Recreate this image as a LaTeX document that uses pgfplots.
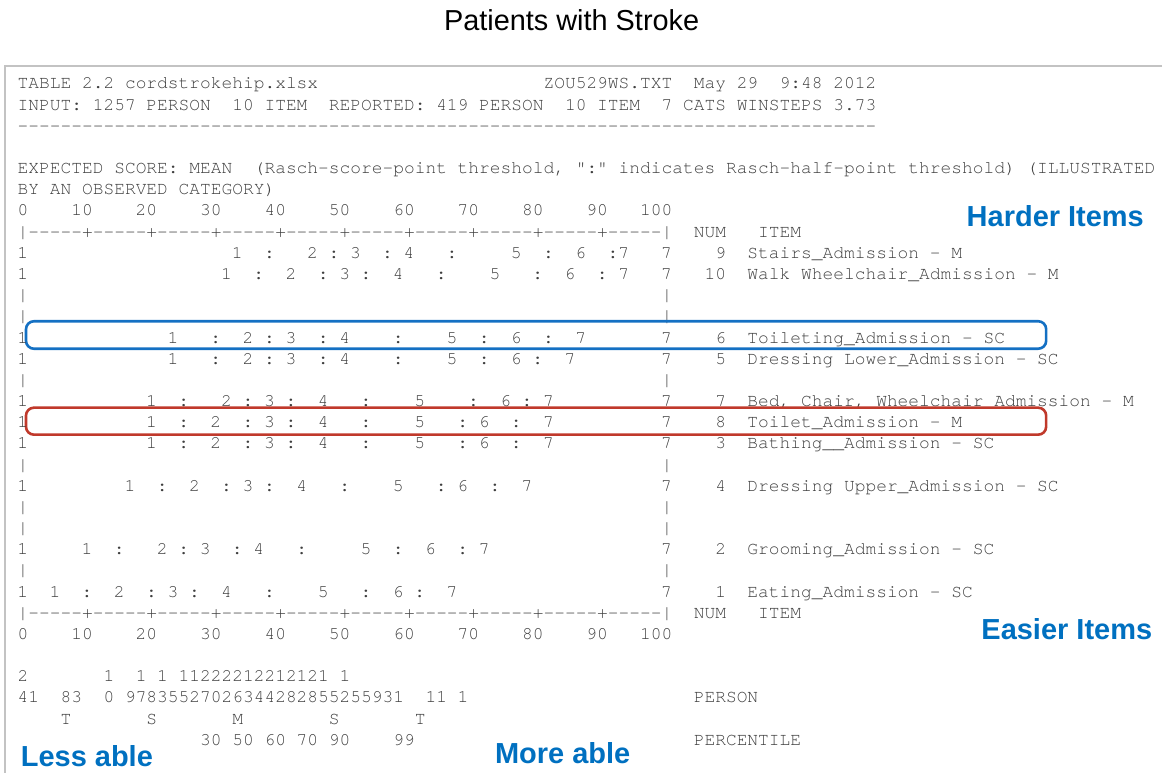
\documentclass[border=0pt]{standalone}
\usepackage{fontspec}
\setmainfont{Liberation Sans}
\setmonofont{TeX Gyre Cursor}
\usepackage{pgfplots}
\pgfplotsset{compat=1.18}
\definecolor{txt}{RGB}{62,62,62}
\definecolor{lblue}{RGB}{0,112,192}
\definecolor{bxblue}{RGB}{20,112,195}
\definecolor{bxred}{RGB}{192,57,43}
\definecolor{framec}{RGB}{195,195,195}
\newcommand\mf{\fontsize{8.95}{10}\selectfont\ttfamily\frenchspacing}
\newcommand\tl[3]{\node[anchor=base west,inner sep=0pt,font=\mf,text=txt] at (axis cs:#1,#2) {#3};}
\pgfplotsset{cats/.style={draw=none, mark=none, nodes near coords,
  point meta=explicit symbolic,
  every node near coord/.append style={anchor=base, inner sep=0pt, font=\mf, text=txt}}}
\begin{document}
\begin{tikzpicture}
\begin{axis}[width=581.5pt, height=387pt, scale only axis,
  xmin=-2.1136, xmax=106.173, ymin=-4.2001, ymax=32.327, y dir=reverse,
  axis lines=none, clip=false]
\path (rel axis cs:0,0) rectangle (rel axis cs:1,1);
% frame
\draw[framec, line width=0.9pt] (axis cs:106.173,-1.085) -- (axis cs:-1.648,-1.085) -- (axis cs:-1.648,32.327);
% title
\node[anchor=base, inner sep=0pt, font=\fontsize{14.45}{17}\selectfont] at (axis cs:51.15,-2.737) {Patients with Stroke};
% header text
\tl{-0.5}{0}{TABLE 2.2 cordstrokehip.xlsx}
\tl{48.5}{0}{ZOU529WS.TXT~~May~29~~9:48~2012}
\tl{-0.5}{1}{INPUT: 1257 PERSON~~10 ITEM~~REPORTED: 419 PERSON~~10 ITEM~~7 CATS WINSTEPS 3.73}
\tl{-0.5}{2}{--------------------------------------------------------------------------------}
\tl{-0.5}{4}{EXPECTED SCORE: MEAN~~(Rasch-score-point threshold, ":" indicates Rasch-half-point threshold) (ILLUSTRATED}
\tl{-0.5}{5}{BY AN OBSERVED CATEGORY)}
\tl{-0.5}{6}{0~~~~10~~~~20~~~~30~~~~40~~~~50~~~~60~~~~70~~~~80~~~~90~~~100}
\tl{-0.5}{7}{|-----+-----+-----+-----+-----+-----+-----+-----+-----+-----|~~NUM~~~ITEM}
% item names
\tl{64.5}{8}{9~~Stairs\_Admission - M}
\tl{63.5}{9}{10~~Walk Wheelchair\_Admission - M}
\tl{64.5}{12}{6~~Toileting\_Admission - SC}
\tl{64.5}{13}{5~~Dressing Lower\_Admission - SC}
\tl{64.5}{15}{7~~Bed, Chair, Wheelchair\_Admission - M}
\tl{64.5}{16}{8~~Toilet\_Admission - M}
\tl{64.5}{17}{3~~Bathing\_\_Admission - SC}
\tl{64.5}{19}{4~~Dressing Upper\_Admission - SC}
\tl{64.5}{22}{2~~Grooming\_Admission - SC}
\tl{64.5}{24}{1~~Eating\_Admission - SC}
% empty rows
\tl{-0.5}{10}{|}\tl{59.5}{10}{|}
\tl{-0.5}{11}{|}\tl{59.5}{11}{|}
\tl{-0.5}{14}{|}\tl{59.5}{14}{|}
\tl{-0.5}{18}{|}\tl{59.5}{18}{|}
\tl{-0.5}{20}{|}\tl{59.5}{20}{|}
\tl{-0.5}{21}{|}\tl{59.5}{21}{|}
\tl{-0.5}{23}{|}\tl{59.5}{23}{|}
% bottom scale
\tl{-0.5}{25}{|-----+-----+-----+-----+-----+-----+-----+-----+-----+-----|~~NUM~~~ITEM}
\tl{-0.5}{26}{0~~~~10~~~~20~~~~30~~~~40~~~~50~~~~60~~~~70~~~~80~~~~90~~~100}
\tl{-0.5}{28}{2~~~~~~~1~~1~1~11222212212121~1}
\tl{-0.5}{29}{41~~83~~0~97835527026344282855255931~~11~1}
\tl{62.5}{29}{PERSON}
\tl{-0.5}{30}{~~~~T~~~~~~~S~~~~~~~M~~~~~~~~S~~~~~~~T}
\tl{16.5}{31}{30 50 60 70 90~~~~99}
\tl{62.5}{31}{PERCENTILE}
% category thresholds (column position, row, category)
\addplot[cats] table[x=c, y=r, meta=m] {
c r m
0 8 1
20 8 1
23 8 :
27 8 2
29 8 :
31 8 3
34 8 :
36 8 4
40 8 :
46 8 5
49 8 :
52 8 6
55 8 :
56 8 7
60 8 7
};
\addplot[cats] table[x=c, y=r, meta=m] {
c r m
0 9 1
19 9 1
22 9 :
25 9 2
28 9 :
30 9 3
32 9 :
35 9 4
39 9 :
44 9 5
48 9 :
51 9 6
54 9 :
56 9 7
60 9 7
};
\addplot[cats] table[x=c, y=r, meta=m] {
c r m
0 12 1
14 12 1
18 12 :
21 12 2
23 12 :
25 12 3
28 12 :
30 12 4
35 12 :
40 12 5
43 12 :
46 12 6
49 12 :
52 12 7
60 12 7
};
\addplot[cats] table[x=c, y=r, meta=m] {
c r m
0 13 1
14 13 1
18 13 :
21 13 2
23 13 :
25 13 3
28 13 :
30 13 4
35 13 :
40 13 5
43 13 :
46 13 6
48 13 :
51 13 7
60 13 7
};
\addplot[cats] table[x=c, y=r, meta=m] {
c r m
0 15 1
12 15 1
15 15 :
19 15 2
21 15 :
23 15 3
25 15 :
28 15 4
32 15 :
37 15 5
42 15 :
45 15 6
47 15 :
49 15 7
60 15 7
};
\addplot[cats] table[x=c, y=r, meta=m] {
c r m
0 16 1
12 16 1
15 16 :
18 16 2
21 16 :
23 16 3
25 16 :
28 16 4
32 16 :
37 16 5
41 16 :
43 16 6
46 16 :
49 16 7
60 16 7
};
\addplot[cats] table[x=c, y=r, meta=m] {
c r m
0 17 1
12 17 1
15 17 :
18 17 2
21 17 :
23 17 3
25 17 :
28 17 4
32 17 :
37 17 5
41 17 :
43 17 6
46 17 :
49 17 7
60 17 7
};
\addplot[cats] table[x=c, y=r, meta=m] {
c r m
0 19 1
10 19 1
13 19 :
16 19 2
19 19 :
21 19 3
23 19 :
26 19 4
30 19 :
35 19 5
39 19 :
41 19 6
44 19 :
47 19 7
60 19 7
};
\addplot[cats] table[x=c, y=r, meta=m] {
c r m
0 22 1
6 22 1
9 22 :
13 22 2
15 22 :
17 22 3
20 22 :
22 22 4
26 22 :
32 22 5
35 22 :
38 22 6
41 22 :
43 22 7
60 22 7
};
\addplot[cats] table[x=c, y=r, meta=m] {
c r m
0 24 1
3 24 1
6 24 :
9 24 2
12 24 :
14 24 3
16 24 :
19 24 4
23 24 :
28 24 5
32 24 :
35 24 6
37 24 :
40 24 7
60 24 7
};
% highlight boxes
\draw[bxblue, line width=1.3pt, rounded corners=4pt] (axis cs:0.307,10.972) rectangle (axis cs:95.37,12.27);
\draw[bxred, line width=1.3pt, rounded corners=4pt] (axis cs:0.307,15.054) rectangle (axis cs:95.37,16.329);
% blue annotations
\node[anchor=base west, inner sep=0pt, font=\fontsize{14.5}{17}\selectfont\bfseries, text=lblue] at (axis cs:87.93,6.51) {Harder Items};
\node[anchor=base west, inner sep=0pt, font=\fontsize{14.5}{17}\selectfont\bfseries, text=lblue] at (axis cs:89.3,26.0) {Easier Items};
\node[anchor=base west, inner sep=0pt, font=\fontsize{14.5}{17}\selectfont\bfseries, text=lblue] at (axis cs:-0.21,32.0) {Less able};
\node[anchor=base west, inner sep=0pt, font=\fontsize{14.5}{17}\selectfont\bfseries, text=lblue] at (axis cs:43.98,31.88) {More able};
\end{axis}
\end{tikzpicture}
\end{document}
